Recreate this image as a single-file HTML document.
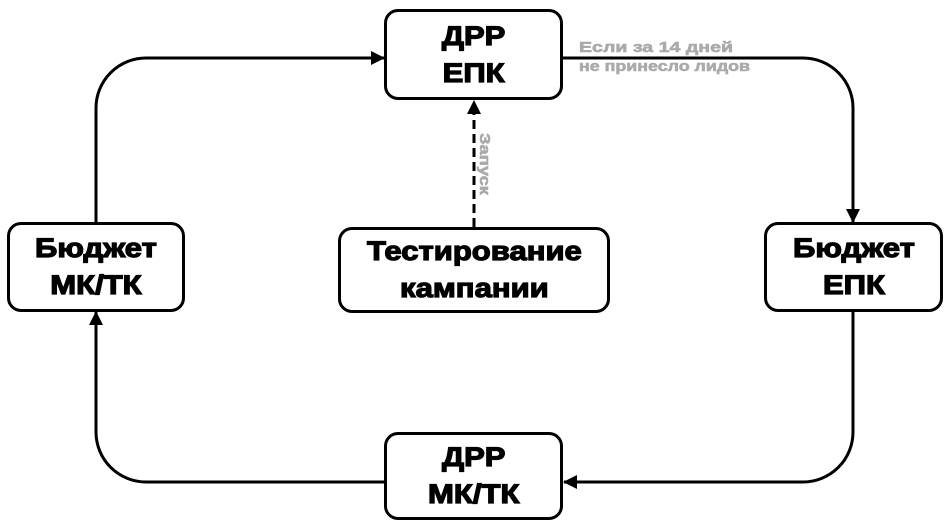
<!DOCTYPE html>
<html><head><meta charset="utf-8"><style>
html,body{margin:0;padding:0;background:#fff;}
body{width:947px;height:528px;position:relative;overflow:hidden;font-family:"Liberation Sans",sans-serif;}
.b{position:absolute;box-sizing:border-box;border:3px solid #000;border-radius:14px;background:#fff;display:flex;align-items:center;justify-content:center;text-align:center;font-weight:bold;font-size:27px;line-height:37px;-webkit-text-stroke:1.2px #000;color:#000;}
.b span{display:inline-block;transform:scaleX(1.15);}
</style></head><body>
<svg width="947" height="528" style="position:absolute;left:0;top:0">
<defs><marker id="a" markerWidth="14" markerHeight="14" refX="13" refY="7" orient="auto" markerUnits="userSpaceOnUse"><path d="M0,0 L14,7 L0,14 z" fill="#000"/></marker></defs>
<g fill="none" stroke="#000" stroke-width="3">
<path d="M96,222 V108 A50,50 0 0 1 146,58 H384" marker-end="url(#a)"/>
<path d="M563,58 H803 A50,50 0 0 1 853,108 V222" marker-end="url(#a)"/>
<path d="M853,312 V432 A50,50 0 0 1 803,482 H564" marker-end="url(#a)"/>
<path d="M384,482 H146 A50,50 0 0 1 96,432 V312" marker-end="url(#a)"/>
<path d="M474,227 V101" stroke-dasharray="9,5" marker-end="url(#a)"/>
</g>
<g font-family="Liberation Sans" font-weight="bold" font-size="15" fill="#aaa" stroke="#aaa" stroke-width="0.6">
<text x="579" y="52" textLength="154" lengthAdjust="spacingAndGlyphs">Если за 14 дней</text>
<text x="579" y="71" textLength="171" lengthAdjust="spacingAndGlyphs">не принесло лидов</text>
<text transform="translate(480,133) rotate(90)" textLength="62" lengthAdjust="spacingAndGlyphs">Запуск</text>
</g>
</svg>
<div class="b" style="left:384px;top:9px;width:179px;height:91px"><span>ДРР<br>ЕПК</span></div>
<div class="b" style="left:7px;top:222px;width:178px;height:90px"><span>Бюджет<br>МК/ТК</span></div>
<div class="b" style="left:338px;top:227px;width:272px;height:86px"><span>Тестирование<br>кампании</span></div>
<div class="b" style="left:764px;top:222px;width:179px;height:90px"><span>Бюджет<br>ЕПК</span></div>
<div class="b" style="left:384px;top:432px;width:179px;height:88px"><span>ДРР<br>МК/ТК</span></div>
</body></html>
